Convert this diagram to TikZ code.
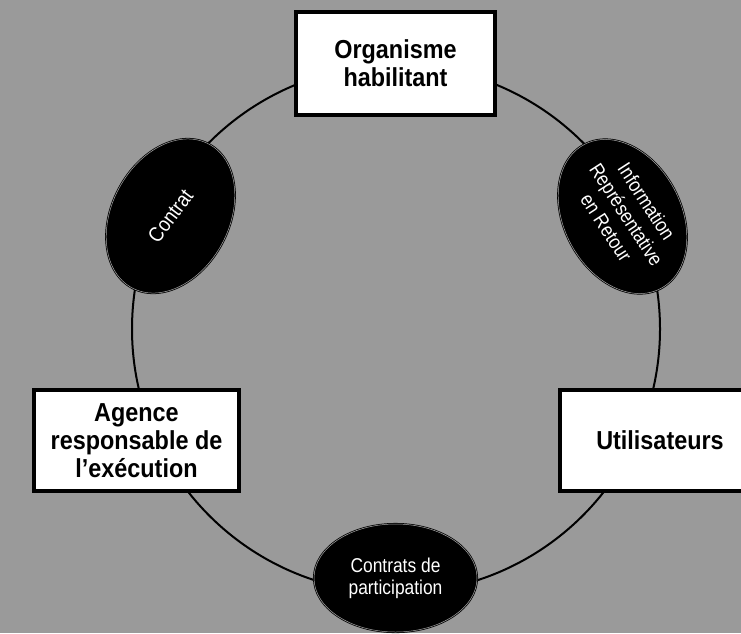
\documentclass[tikz,border=0pt]{standalone}
\usepackage{fontspec}
\setmainfont{Liberation Sans}
\newfontfamily\partyfont[FakeStretch=0.9]{Liberation Sans}
\newfontfamily\bubblefont[FakeStretch=0.87]{Liberation Sans}
\usetikzlibrary{shapes.geometric}
\definecolor{bggray}{HTML}{9A9A9A}
\begin{document}
\begin{tikzpicture}[x=1pt,y=-1pt,
  party/.style={draw=black, line width=4pt, fill=white, inner sep=0pt, align=center,
    font=\partyfont\fontsize{26}{28}\selectfont\bfseries},
  bubble/.style={ellipse, fill=black, draw=black, line width=0.8pt,
    double=gray!70, double distance=0.5pt, inner sep=0pt},
  bubbletext/.style={text=white, align=center, inner sep=0pt,
    font=\bubblefont\fontsize{20}{22}\selectfont}
]
\useasboundingbox (0,0) rectangle (741,633);
\fill[bggray] (0,0) rectangle (741,633);
\clip (0,0) rectangle (741,633);

% the ring linking the four partners
\coordinate (hub) at (396,329);
\draw[line width=2pt] (hub) circle[radius=264];

% partners
\node[party, minimum width=199pt, minimum height=103pt] (org) at (395.5,63.5) {Organisme\\habilitant};
\node[party, minimum width=205pt, minimum height=101pt] (agence) at (136.5,440.5) {Agence\\responsable de\\l’exécution};
\node[party, minimum width=200pt, minimum height=101pt] (users) at (660,440.5) {Utilisateurs};

% flows between partners
\node[bubble, minimum width=117pt, minimum height=163pt, rotate=-28] (contrat) at (170.5,216) {};
\node[bubbletext, rotate=53, font=\bubblefont\fontsize{21}{22}\selectfont] (contratlbl) at (contrat.center) {Contrat};

\node[bubble, minimum width=117pt, minimum height=163pt, rotate=28] (info) at (622.5,216.5) {};
\node[bubbletext, rotate=-57, font=\bubblefont\fontsize{20}{24}\selectfont] (infolbl) at ([xshift=4pt,yshift=2pt]info.center) {Information\\Représentative\\en Retour};

\node[bubble, minimum width=163pt, minimum height=108pt] (part) at (395.5,578) {};
\node[bubbletext] (partlbl) at (part.center) {Contrats de\\participation};
\end{tikzpicture}
\end{document}
